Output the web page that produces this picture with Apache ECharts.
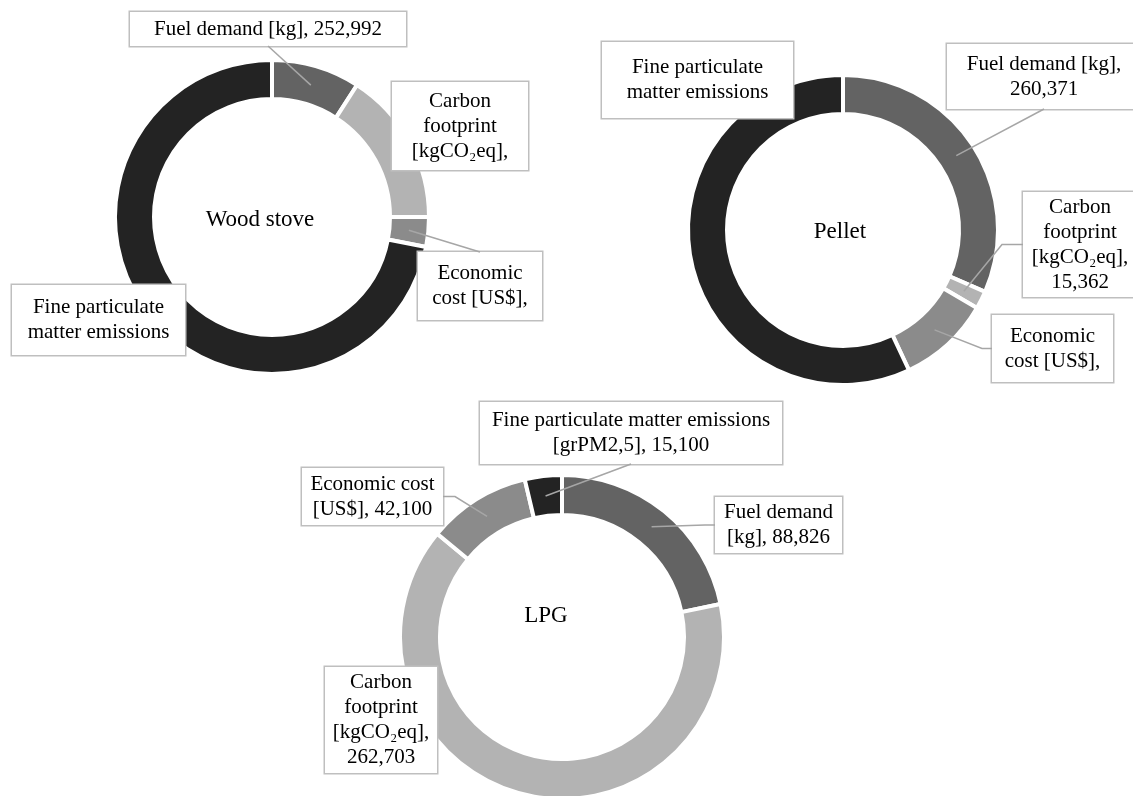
<!DOCTYPE html>
<html>
<head>
<meta charset="utf-8">
<script src="https://cdn.jsdelivr.net/npm/echarts@6/dist/echarts.min.js"></script>
<style>
html,body{margin:0;padding:0;background:#fff;}
#chart{width:1133px;height:796px;}
</style>
</head>
<body>
<div id="chart"></div>
<script>
// ---------- data ----------
const categories = ['Fuel demand', 'Carbon footprint', 'Economic cost', 'Fine particulate matter emissions'];
const chartNames = ['Wood stove', 'Pellet', 'LPG'];

const woodValues   = [252992, 441300, 84900, 1998000];
const pelletValues = [260371, 15362, 79400, 470700];
const lpgValues    = [88826, 262703, 42100, 15100];

const woodLabels = [
  'Fuel demand [kg], 252,992',
  'Carbon\nfootprint\n[kgCO\u2082eq],',
  'Economic\ncost [US$],',
  'Fine particulate\nmatter emissions'
];
const pelletLabels = [
  'Fuel demand [kg],\n260,371',
  'Carbon\nfootprint\n[kgCO\u2082eq],\n15,362',
  'Economic\ncost [US$],',
  'Fine particulate\nmatter emissions'
];
const lpgLabels = [
  'Fuel demand\n[kg], 88,826',
  'Carbon\nfootprint\n[kgCO\u2082eq],\n262,703',
  'Economic cost\n[US$], 42,100',
  'Fine particulate matter emissions\n[grPM2,5], 15,100'
];

// ---------- styles / layout ----------
const colors = ['#636363', '#b3b3b3', '#8b8b8b', '#232323'];
const FONT = "'Liberation Serif','Times New Roman',serif";
const LINE_H = 25;
const BORDER = 4;
const LEADER = { stroke: '#a6a6a6', lineWidth: 1.5 };

const layout = [
  { center: [272, 217], r: [120, 155], title: [260, 220], boxes: [
    { x: 130, y: 12,  w: 276, h: 34, side: 'bottom' },
    { x: 392, y: 82,  w: 136, h: 88 },
    { x: 418, y: 252, w: 124, h: 68, side: 'top' },
    { x: 12,  y: 285, w: 173, h: 70 }
  ]},
  { center: [843, 230], r: [118, 153], title: [840, 232], boxes: [
    { x: 947,  y: 44,  w: 194, h: 65, side: 'bottom' },
    { x: 1023, y: 192, w: 114, h: 105, side: 'left', elbow: 21 },
    { x: 992,  y: 315, w: 121, h: 67, side: 'left', elbow: 10 },
    { x: 602,  y: 42,  w: 191, h: 76 }
  ]},
  { center: [562, 637], r: [124, 160], title: [546, 616], boxes: [
    { x: 715, y: 497, w: 127, h: 56, side: 'left', elbow: 10 },
    { x: 325, y: 667, w: 112, h: 106 },
    { x: 302, y: 468, w: 141, h: 57, side: 'right', elbow: 12 },
    { x: 480, y: 402, w: 302, h: 62, side: 'bottom' }
  ]}
];

function makeSeries(k, values, labels) {
  const L = layout[k];
  return {
    type: 'pie',
    name: chartNames[k],
    center: L.center,
    radius: [L.r[0] - BORDER / 2, L.r[1] + BORDER / 2],
    startAngle: 90,
    clockwise: true,
    avoidLabelOverlap: false,
    silent: true,
    animation: false,
    itemStyle: { borderColor: '#ffffff', borderWidth: BORDER },
    label: {
      show: true,
      position: 'outside',
      formatter: p => labels[p.dataIndex],
      fontFamily: FONT,
      fontSize: 21,
      lineHeight: LINE_H,
      color: '#000000',
      backgroundColor: '#ffffff',
      borderColor: '#bfbfbf',
      borderWidth: 1.5,
      align: 'center'
    },
    labelLine: { show: false },
    labelLayout: function (params) {
      const b = L.boxes[params.dataIndex];
      return { x: b.x + b.w / 2, y: b.y, align: 'center', verticalAlign: 'top' };
    },
    data: values.map((v, i) => {
      const b = L.boxes[i];
      const n = labels[i].split('\n').length;
      const pv = Math.max(0, (b.h - n * LINE_H) / 2);
      return {
        name: categories[i],
        value: v,
        itemStyle: { color: colors[i] },
        label: { width: b.w, padding: [pv, 0, pv, 0] }
      };
    })
  };
}

const chart = echarts.init(document.getElementById('chart'), null, { renderer: 'canvas' });

const titleGraphics = chartNames.map((t, k) => ({
  type: 'text',
  x: layout[k].title[0],
  y: layout[k].title[1],
  silent: true,
  z: 60,
  style: {
    text: t,
    fontFamily: FONT,
    fontSize: 23,
    fill: '#000000',
    align: 'center',
    verticalAlign: 'middle'
  }
}));

chart.setOption({
  backgroundColor: '#ffffff',
  animation: false,
  series: [
    makeSeries(0, woodValues, woodLabels),
    makeSeries(1, pelletValues, pelletLabels),
    makeSeries(2, lpgValues, lpgLabels)
  ],
  graphic: titleGraphics
});

// Leader lines: start at each sector's mid-angle / mid-ring point taken from the
// pie layout ECharts computed, end at the label box edge.
const leaders = [];
for (let k = 0; k < layout.length; k++) {
  const data = chart.getModel().getSeriesByIndex(k).getData();
  layout[k].boxes.forEach((b, i) => {
    if (!b.side) return;
    const lay = data.getItemLayout(i);
    if (!lay) return;
    const mid = (lay.startAngle + lay.endAngle) / 2;
    const rm = (lay.r + lay.r0) / 2;
    const p0 = [lay.cx + rm * Math.cos(mid), lay.cy + rm * Math.sin(mid)];
    let end;
    if (b.side === 'bottom') end = [b.x + b.w / 2, b.y + b.h];
    else if (b.side === 'top') end = [b.x + b.w / 2, b.y];
    else if (b.side === 'left') end = [b.x, b.y + b.h / 2];
    else end = [b.x + b.w, b.y + b.h / 2];
    let midPt = end;
    if (b.elbow) midPt = [b.side === 'left' ? end[0] - b.elbow : end[0] + b.elbow, end[1]];
    leaders.push({
      type: 'polyline',
      silent: true,
      z: 50,
      shape: { points: [p0, midPt, end] },
      style: { stroke: LEADER.stroke, lineWidth: LEADER.lineWidth, fill: null }
    });
  });
}
chart.setOption({ graphic: titleGraphics.concat(leaders) }, { replaceMerge: ['graphic'] });
</script>
</body>
</html>
